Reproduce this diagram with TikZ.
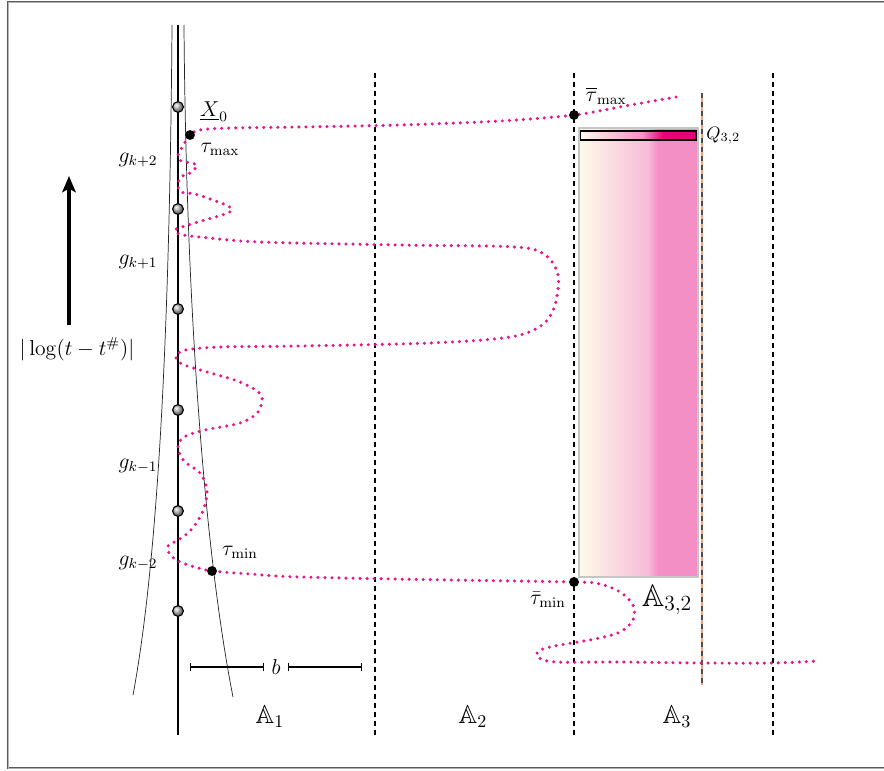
\documentclass[tikz,border=0pt]{standalone}
\usepackage{amsmath,amsfonts,amssymb}
\usetikzlibrary{arrows.meta, positioning, calc}

\definecolor{orbitpink}{RGB}{232,18,140}
\definecolor{cream}{RGB}{255,250,234}
\definecolor{pinklight}{RGB}{246,188,216}
\definecolor{pinkmid}{RGB}{244,143,198}
\definecolor{deeppink}{RGB}{230,0,126}
\definecolor{edgeorange}{RGB}{245,160,120}

\pgfdeclarehorizontalshading{cellshade}{100bp}{color(0bp)=(cream); color(25bp)=(cream); color(54bp)=(pinklight); color(58bp)=(pinkmid); color(100bp)=(pinkmid)}
\pgfdeclarehorizontalshading{barshade}{100bp}{color(0bp)=(cream); color(25bp)=(cream); color(52bp)=(pinkmid); color(61bp)=(deeppink); color(100bp)=(deeppink)}

\begin{document}
\begin{tikzpicture}[
    x=0.5556pt, y=-0.5556pt,
    node distance=2pt and 2pt,
    frame/.style={draw=black!65, double=black!30, double distance=0.55pt, line width=0.5pt},
    axisline/.style={line width=1.5pt},
    funnel/.style={black!85, line width=0.4pt},
    sector/.style={line width=0.8pt, dash pattern=on 3pt off 2pt},
    orbit/.style={orbitpink, line width=1.9pt, line cap=round, dash pattern=on 0pt off 3.9pt},
    site/.style={circle, draw=black, line width=0.6pt, shading=ball, ball color=gray!55, inner sep=0pt, minimum size=6pt},
    event/.style={circle, fill=black, inner sep=0pt, minimum size=5.5pt},
    span/.style={{Bar[width=4.5pt]}-{Bar[width=4.5pt]}, line width=0.8pt},
    cellbox/.style={draw=gray!45, line width=1.1pt, shading=cellshade, inner sep=0pt},
    qbox/.style={draw=black, line width=0.6pt, shading=barshade, inner sep=0pt},
    lab/.style={font=\large}
]
    \useasboundingbox (0,0) rectangle (884,771);
    \draw[frame] (890,2) -- (8,2) -- (8,768) -- (890,768);

    \coordinate (axistop) at (178,25);
    \coordinate (axisbot) at (178,735);

    % sectors
    \foreach \x in {375,574,773}
        \draw[sector] (\x,73) -- (\x,735);
    \draw[edgeorange, line width=0.8pt] (702,93) -- (702,685);
    \draw[sector, gray!60!black, line width=0.6pt] (702,93) -- (702,685);

    \node (cell) [cellbox, minimum width=66.1pt, minimum height=249.5pt] at (638.5,352.5) {};
    \node (qbar) [qbox, minimum width=64.4pt, minimum height=5pt] at (638,135.5) {};
    \node (qlab) [right=2pt of qbar] {$Q_{3,2}$};
    \node (alab) at (667,600) {\LARGE $\mathbb{A}_{3,2}$};

    % funnel around the axis
    \draw[funnel] (172,25) .. controls (170,300) and (160,550) .. (133,695);
    \draw[funnel] (184,25) .. controls (186,300) and (204,550) .. (233,697);
    \draw[axisline] (axistop) -- (axisbot);
    \foreach \y in {107,209,309,410,511,611}
        \node[site] at (178,\y) {};

    \coordinate (tmax) at (190,135);
    \coordinate (tmin) at (212,571);
    \coordinate (tbmax) at (574,115);
    \coordinate (tbmin) at (574,582);

    \draw[orbit] plot[smooth, tension=0.55] coordinates {
        (676,97) (625,106) (tbmax) (500,121) (400,125) (300,127) (230,128) (200,130) (tmax)
        (183,146) (178,155) (181,161) (192,163) (197,166) (190,173) (181,177) (178,185)
        (181,192) (195,194) (213,200) (228,206) (232,210) (225,214) (205,220) (185,226)
        (175,230) (179,234) (200,237) (260,242) (400,245) (515,247) (545,255) (558,275)
        (555,305) (542,325) (510,337) (430,343) (300,346) (220,347) (186,350) (176,356)
        (182,364) (207,372) (240,382) (261,395) (258,412) (240,423) (205,430) (184,437)
        (178,447) (184,461) (200,473) (207,490) (204,508) (197,522) (188,533) (178,540)
        (168,546) (169,553) (178,561) (195,567) (tmin) (250,574) (300,577) (450,580)
        (tbmin) (600,584) (620,592) (633,605) (633,620) (620,632) (595,639) (560,645)
        (540,650) (538,657) (556,662) (620,662) (700,663) (773,663) (817,661)};

    \node[event] (tmaxdot) at (tmax) {};
    \node[event] (tmindot) at (tmin) {};
    \node[event] (tbmaxdot) at (tbmax) {};
    \node[event] (tbmindot) at (tbmin) {};

    \node[lab] (xlab) at (214,112) {$\underline{X}_0$};
    \node[lab] (tmaxlab) at (220,149) {$\tau_{\max}$};
    \node[lab] (tminlab) at (240,552) {$\tau_{\min}$};
    \node[lab] (tbmaxlab) at (606,96) {$\overline{\tau}_{\max}$};
    \node[lab] (tbminlab) at (548,600) {$\bar{\tau}_{\min}$};

    \node[lab] at (138,160) {$g_{k+2}$};
    \node[lab] at (138,262) {$g_{k+1}$};
    \node[lab] at (138,466) {$g_{k-1}$};
    \node[lab] at (138,563) {$g_{k-2}$};

    % time direction
    \node[lab] (loglab) at (77,349) {$|\log(t-t^{\#})|$};
    \coordinate (arrowbot) at (69,325);
    \coordinate (arrowtop) at (69,176);
    \draw[line width=2pt, -{Stealth[length=9pt, width=7.5pt, inset=2pt]}] (arrowbot) -- (arrowtop);

    \node (b) [lab, inner sep=4pt] at (276,667) {$b$};
    \coordinate (bl) at (190,667);
    \coordinate (br) at (362,667);
    \draw[span] (bl) -- (b.west);
    \draw[span] (b.east) -- (br);

    \node at (270,717) {\Large $\mathbb{A}_1$};
    \node at (473,717) {\Large $\mathbb{A}_2$};
    \node at (677,717) {\Large $\mathbb{A}_3$};
\end{tikzpicture}
\end{document}
